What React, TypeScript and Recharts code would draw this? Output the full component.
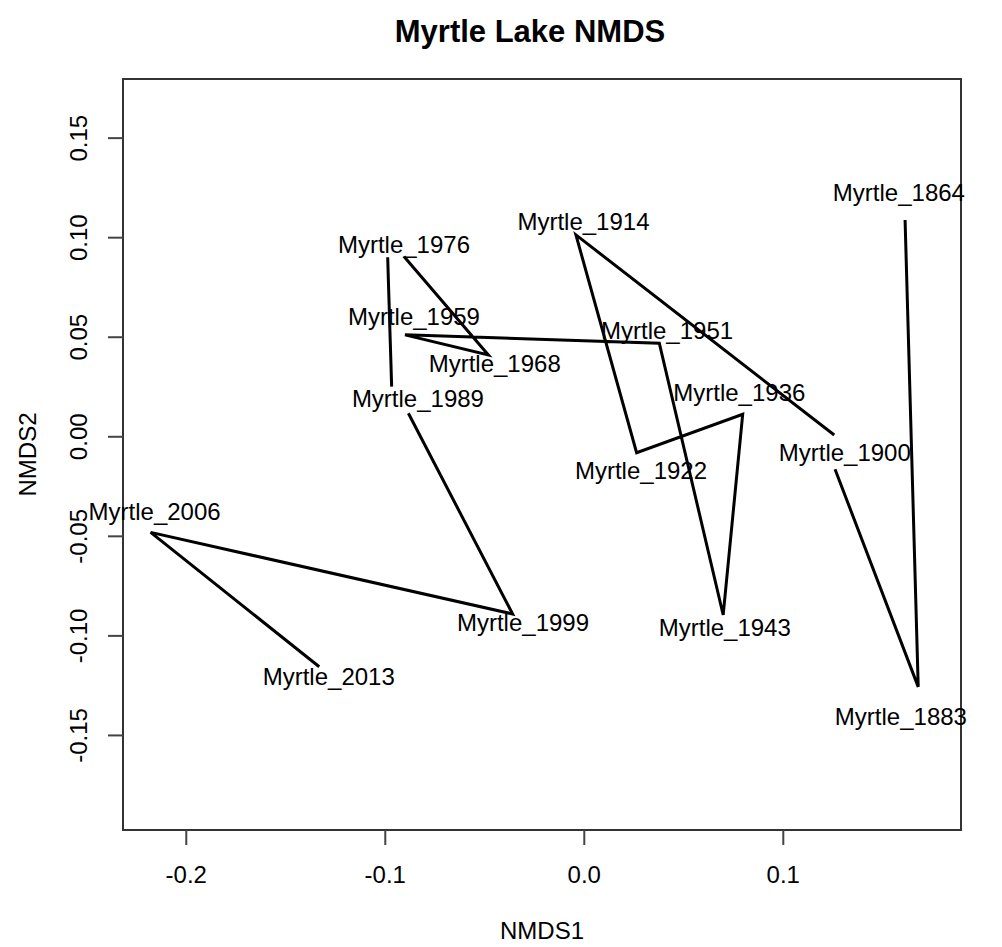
import React from "react";
import { ScatterChart, Scatter, XAxis, YAxis, ReferenceArea } from "recharts";

// Sample names (core depths dated by year)
const siteNames = [
  "Myrtle_1864", "Myrtle_1883", "Myrtle_1900", "Myrtle_1914", "Myrtle_1922",
  "Myrtle_1936", "Myrtle_1943", "Myrtle_1951", "Myrtle_1959", "Myrtle_1968",
  "Myrtle_1976", "Myrtle_1989", "Myrtle_1999", "Myrtle_2006", "Myrtle_2013",
];

// Label anchor coordinates in ordination space
const labelNmds1 = [0.1581, 0.1591, 0.1309, -0.0004, 0.0285, 0.0779, 0.0706, 0.0416, -0.0856, -0.045, -0.0906, -0.0836, -0.0308, -0.2159, -0.1284];
const labelNmds2 = [0.123, -0.1403, -0.0076, 0.1084, -0.0167, 0.0222, -0.0956, 0.0532, 0.0607, 0.0371, 0.0966, 0.0195, -0.0931, -0.0373, -0.1202];

// Time trajectory vertices (oldest to youngest); the stroke id splits the path into pieces
const trackNmds1 = [0.1612, 0.1678, 0.126, 0.1256, -0.0042, 0.0263, 0.0796, 0.0698, 0.0377, -0.0901, -0.0482, -0.0906, -0.0988, -0.0968, -0.0884, -0.036, -0.2179, -0.1332];
const trackNmds2 = [0.1089, -0.1256, -0.0163, 0.0009, 0.1014, -0.008, 0.0113, -0.0895, 0.047, 0.0512, 0.0411, 0.0905, 0.0902, 0.0252, 0.0118, -0.089, -0.048, -0.1155];
const trackStroke = [0, 0, 0, 1, 1, 1, 1, 1, 1, 1, 1, 1, 2, 2, 3, 3, 3, 3];

// Axis limits and ticks
const xDomain = [-0.2318, 0.1893];
const yDomain = [-0.1975, 0.1797];
const xTicks = [-0.2, -0.1, 0, 0.1];
const yTicks = [-0.15, -0.1, -0.05, 0, 0.05, 0.1, 0.15];

const FONT = '"Liberation Sans", Arial, Helvetica, sans-serif';
const FS = 24;

const labelData = siteNames.map((name, i) => ({ name, x: labelNmds1[i], y: labelNmds2[i] }));

const strokeIds = Array.from(new Set(trackStroke));
const trackPieces = strokeIds.map((id) =>
  trackNmds1
    .map((x, i) => ({ x, y: trackNmds2[i], s: trackStroke[i] }))
    .filter((p) => p.s === id)
);

const NoMark = () => <g />;

const SiteLabel = (props: any) => {
  const { cx, cy, payload } = props;
  return (
    <text x={cx} y={cy} dy="0.36em" textAnchor="middle" fontFamily={FONT} fontSize={FS} fill="#000">
      {payload.name}
    </text>
  );
};

const XTick = (props: any) => {
  const { x, y, payload } = props;
  return (
    <text x={x} y={y + 38} textAnchor="middle" fontFamily={FONT} fontSize={FS} fill="#000">
      {Number(payload.value).toFixed(1)}
    </text>
  );
};

const YTick = (props: any) => {
  const { x, y, payload } = props;
  const bx = x - 21;
  return (
    <text x={bx} y={y} transform={`rotate(-90, ${bx}, ${y})`} textAnchor="middle" fontFamily={FONT} fontSize={FS} fill="#000">
      {Number(payload.value).toFixed(2)}
    </text>
  );
};

const XTitle = (props: any) => {
  const vb = props.viewBox;
  return (
    <text x={vb.x + vb.width / 2} y={vb.y + 109} textAnchor="middle" fontFamily={FONT} fontSize={FS} fill="#000">
      NMDS1
    </text>
  );
};

const YTitle = (props: any) => {
  const vb = props.viewBox;
  const bx = vb.x + 13;
  const cy = vb.y + vb.height / 2;
  return (
    <text x={bx} y={cy} transform={`rotate(-90, ${bx}, ${cy})`} textAnchor="middle" fontFamily={FONT} fontSize={FS} fill="#000">
      NMDS2
    </text>
  );
};

export default function App() {
  return (
    <div style={{ position: "absolute", left: 0, top: 0, width: 1002, height: 947, background: "#fff" }}>
      <ScatterChart width={1002} height={947} margin={{ top: 79, right: 41, bottom: 17, left: 23 }}>
        <XAxis
          type="number"
          dataKey="x"
          domain={xDomain}
          ticks={xTicks}
          axisLine={false}
          tickLine={{ stroke: "#444", strokeWidth: 2 }}
          tickSize={15}
          tickMargin={0}
          height={100}
          tick={<XTick />}
          interval={0}
          label={{ content: <XTitle /> }}
        />
        <YAxis
          type="number"
          dataKey="y"
          domain={yDomain}
          ticks={yTicks}
          axisLine={false}
          tickLine={{ stroke: "#444", strokeWidth: 2 }}
          tickSize={15}
          tickMargin={0}
          width={100}
          tick={<YTick />}
          interval={0}
          label={{ content: <YTitle /> }}
        />
        <ReferenceArea
          x1={xDomain[0]}
          x2={xDomain[1]}
          y1={yDomain[0]}
          y2={yDomain[1]}
          fill="none"
          fillOpacity={0}
          stroke="#333"
          strokeWidth={2}
        />
        {trackPieces.map((piece, i) => (
          <Scatter
            key={`track-${i}`}
            data={piece}
            line={{ stroke: "#000", strokeWidth: 3 }}
            lineJointType="linear"
            shape={<NoMark />}
            isAnimationActive={false}
            legendType="none"
          />
        ))}
        <Scatter data={labelData} shape={<SiteLabel />} isAnimationActive={false} legendType="none" />
      </ScatterChart>
      <svg width={1002} height={70} style={{ position: "absolute", left: 0, top: 0, pointerEvents: "none" }}>
        <text x={530} y={42} textAnchor="middle" fontFamily={FONT} fontSize={31} fontWeight="bold" fill="#000">
          Myrtle Lake NMDS
        </text>
      </svg>
    </div>
  );
}
